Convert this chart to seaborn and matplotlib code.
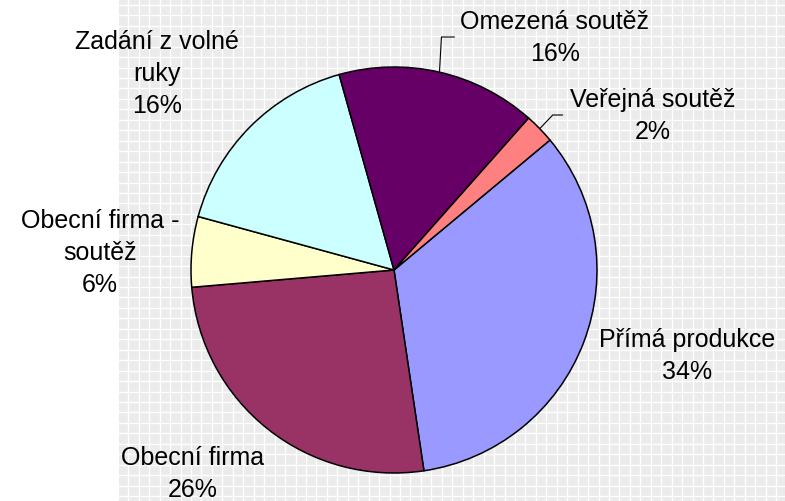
import numpy as np
import matplotlib
matplotlib.use("Agg")
import matplotlib.pyplot as plt
import seaborn as sns

# ---- data ----
categories = ["Přímá produkce", "Obecní firma", "Obecní firma -\nsoutěž",
              "Zadání z volné\nruky", "Omezená soutěž", "Veřejná soutěž"]
values = [33.7, 26.0, 5.6, 16.4, 15.9, 2.4]
colors = ["#9999FF", "#993366", "#FFFFCC", "#CCFFFF", "#660066", "#FF8080"]

sns.set_style("darkgrid", {"axes.facecolor": "#EBEBEB", "grid.color": "white"})
plt.rcParams['font.family'] = ['Liberation Sans', 'DejaVu Sans']

W, H = 785, 502
fig = plt.figure(figsize=(W / 100, H / 100), dpi=100)
fig.patch.set_facecolor("white")

# background plot area with grid
bg_left = 119
bg = fig.add_axes([bg_left / W, 0, (W - bg_left) / W, 1])
bg.set_xlim(0, W - bg_left)
bg.set_ylim(0, H)
step = 10.45
bg.set_xticks(np.arange(9.3, W - bg_left, step))
bg.set_yticks(np.arange(5, H, step))
bg.grid(True, color="white", linewidth=1.0)
bg.tick_params(length=0, labelbottom=False, labelleft=False)
for s in bg.spines.values():
    s.set_visible(False)

# pie axes in pixel coordinates
ax = fig.add_axes([0, 0, 1, 1])
ax.set_xlim(0, W)
ax.set_ylim(0, H)
ax.set_aspect("equal")
ax.axis("off")
ax.patch.set_alpha(0)

cx, cy, R = 394, H - 271, 203
start = 39.8
wedges, _ = ax.pie(values, colors=colors, startangle=start, counterclock=False,
                   center=(cx, cy), radius=R, frame=True,
                   wedgeprops=dict(edgecolor="black", linewidth=1.1))
ax.set_xlim(0, W)
ax.set_ylim(0, H)
ax.axis("off")

pcts = [f"{round(v):d}%" for v in values]
label_pos = [(687, 356), (193, 474), (100, 253), (157, 74), (555, 38), (653, 116)]
for cat, p, (lx, ly) in zip(categories, pcts, label_pos):
    ax.text(lx, H - ly, f"{cat}\n{p}", ha="center", va="center", fontsize=18,
            color="black", linespacing=1.42)

# leader lines for the small / top labels
def mid_point(w):
    a = np.deg2rad((w.theta1 + w.theta2) / 2)
    return cx + R * np.cos(a), cy + R * np.sin(a)

x0, y0 = mid_point(wedges[4])
ax.plot([x0, x0 + 2, x0 + 15], [y0, H - 38, H - 38], color="black", lw=0.8)
x0, y0 = mid_point(wedges[5])
ax.plot([x0, x0 + 13, x0 + 23], [y0, H - 116, H - 116], color="black", lw=0.8)

fig.savefig("out.png", dpi=100)
